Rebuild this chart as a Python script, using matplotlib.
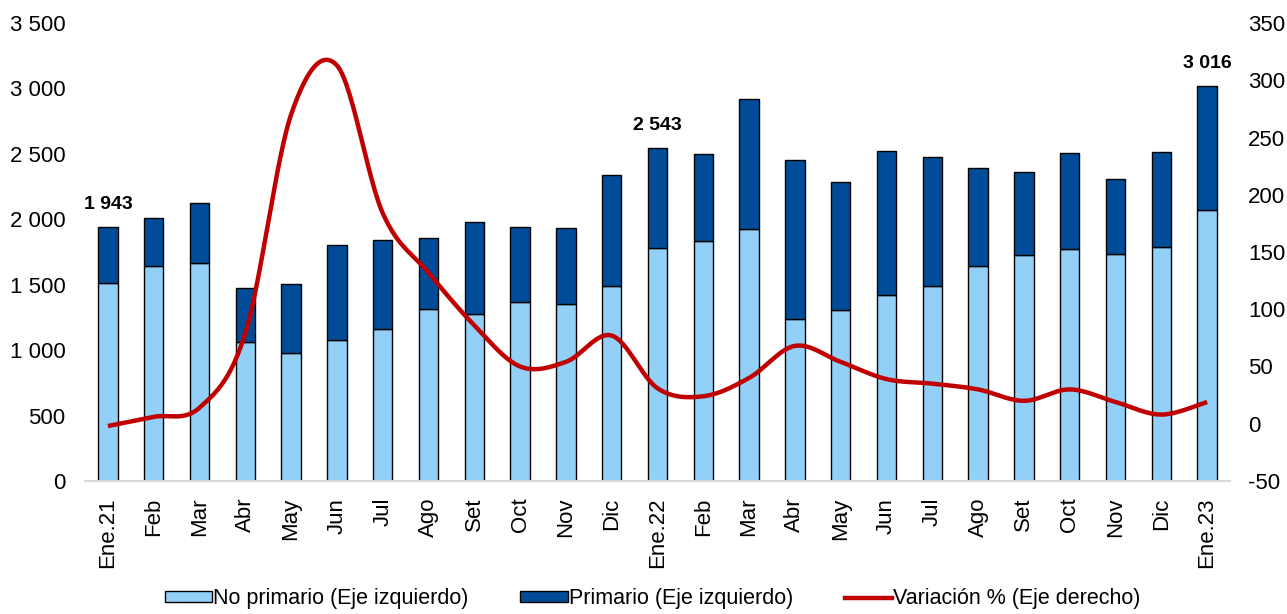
import matplotlib
matplotlib.use("Agg")
import matplotlib.pyplot as plt
import numpy as np
from matplotlib.patches import Patch
from matplotlib.lines import Line2D
from matplotlib.ticker import FuncFormatter

plt.rcParams['font.family'] = ['Liberation Sans', 'DejaVu Sans']
plt.rcParams['axes.unicode_minus'] = False

months = ['Ene.21', 'Feb', 'Mar', 'Abr', 'May', 'Jun', 'Jul', 'Ago', 'Set', 'Oct',
          'Nov', 'Dic', 'Ene.22', 'Feb', 'Mar', 'Abr', 'May', 'Jun', 'Jul', 'Ago',
          'Set', 'Oct', 'Nov', 'Dic', 'Ene.23']

# stacked bars (left axis)
no_primario = [1510, 1643, 1665, 1062, 980, 1080, 1164, 1312, 1274, 1368,
               1350, 1490, 1780, 1831, 1923, 1238, 1306, 1423, 1490, 1640,
               1724, 1775, 1734, 1788, 2070]
total = [1943, 2009, 2126, 1477, 1505, 1805, 1844, 1857, 1981, 1938,
         1936, 2340, 2543, 2496, 2918, 2450, 2284, 2520, 2478, 2391,
         2361, 2509, 2309, 2511, 3016]
primario = [t - n for t, n in zip(total, no_primario)]

# variation % (right axis)
variacion = [-2, 6, 14, 79, 270, 313, 184, 132, 86, 50,
             54, 77, 31, 24, 40, 68, 54, 39, 35, 30,
             20, 30, 19, 8, 19]

# bars that carry a total label
labelled = [0, 12, 24]

c_light = '#92D0F8'
c_dark = '#004C99'
c_red = '#C00000'


def smooth(xs, ys, steps=30):
    # Excel-like smoothed line: cubic Bezier through every point
    xs = np.asarray(xs, float)
    ys = np.asarray(ys, float)
    px = np.concatenate([[xs[0]], xs, [xs[-1]]])
    py = np.concatenate([[ys[0]], ys, [ys[-1]]])
    out_x, out_y = [], []
    t = np.linspace(0, 1, steps)
    for i in range(1, len(px) - 2):
        p0 = np.array([px[i], py[i]])
        p3 = np.array([px[i + 1], py[i + 1]])
        c1 = p0 + (np.array([px[i + 1], py[i + 1]]) - np.array([px[i - 1], py[i - 1]])) / 6
        c2 = p3 - (np.array([px[i + 2], py[i + 2]]) - np.array([px[i], py[i]])) / 6
        b = ((1 - t) ** 3)[:, None] * p0 + (3 * (1 - t) ** 2 * t)[:, None] * c1 \
            + (3 * (1 - t) * t ** 2)[:, None] * c2 + (t ** 3)[:, None] * p3
        out_x.extend(b[:, 0])
        out_y.extend(b[:, 1])
    return out_x, out_y


fig = plt.figure(figsize=(12.87, 6.14), dpi=100)
ax = fig.add_axes([85 / 1287, 1 - 481 / 614, (1230 - 85) / 1287, (481 - 23) / 614])
x = np.arange(len(months))

ax.bar(x, no_primario, width=0.42, color=c_light, edgecolor='black', linewidth=1.0, zorder=2)
ax.bar(x, primario, bottom=no_primario, width=0.42, color=c_dark, edgecolor='black',
       linewidth=1.0, zorder=2)

for i in labelled:
    ax.annotate(f"{total[i]:,}".replace(",", " "), (x[i], total[i]), xytext=(0, 10),
                textcoords='offset points', ha='center', va='bottom',
                fontsize=14, fontweight='bold')

ax.set_xlim(-0.5, len(months) - 0.5)
ax.set_ylim(0, 3500)
ax.set_yticks(np.arange(0, 3501, 500))
ax.yaxis.set_major_formatter(FuncFormatter(lambda v, p: f"{int(v):,}".replace(",", " ")))
ax.set_xticks(x)
ax.set_xticklabels(months, rotation=90)
ax.tick_params(axis='y', length=0, pad=14, labelsize=16)
ax.tick_params(axis='x', length=0, pad=12, labelsize=16)
for s in ['top', 'right', 'left']:
    ax.spines[s].set_visible(False)
ax.spines['bottom'].set_color('#d9d9d9')
ax.spines['bottom'].set_linewidth(1.5)

ax2 = ax.twinx()
sx, sy = smooth(x, variacion)
ax2.plot(sx, sy, color=c_red, linewidth=3.2, solid_capstyle='butt', zorder=3)
ax2.set_ylim(-50, 350)
ax2.set_yticks(np.arange(-50, 351, 50))
ax2.tick_params(axis='y', length=0, pad=13, labelsize=16)
for s in ['top', 'right', 'left', 'bottom']:
    ax2.spines[s].set_visible(False)

handles = [Patch(facecolor=c_light, edgecolor='black', linewidth=1.0),
           Patch(facecolor=c_dark, edgecolor='black', linewidth=1.0),
           Line2D([0], [0], color=c_red, linewidth=3.2)]
labels = ['No primario (Eje izquierdo)', 'Primario (Eje izquierdo)', 'Variación % (Eje derecho)']
fig.legend(handles, labels, loc='lower center', bbox_to_anchor=(0.507, -0.024), ncol=3,
           frameon=False, fontsize=15.5, handlelength=2.2, handleheight=0.45,
           handletextpad=0.05, columnspacing=2.4)

fig.savefig('out.png', dpi=100)
